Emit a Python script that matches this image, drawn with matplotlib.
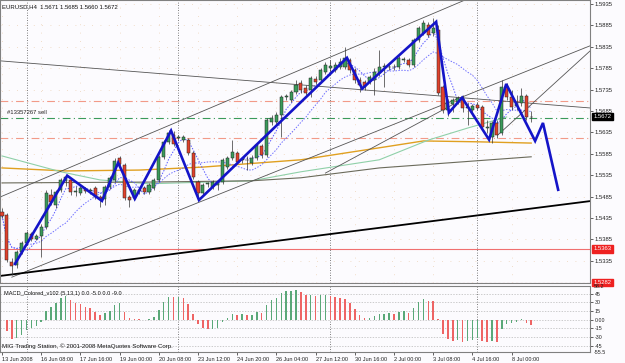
import numpy as np
import pandas as pd
import matplotlib
matplotlib.use("Agg")
import matplotlib.pyplot as plt
import matplotlib.transforms as mtransforms

plt.rcParams["font.family"] = ["Liberation Sans", "DejaVu Sans"]

# --- candles (EURUSD H4, 13 Jun - 8 Jul 2008) ---
opens = [1.5449, 1.5442, 1.5332, 1.5325, 1.5356, 1.5377, 1.5398, 1.5386, 1.5393, 1.5414,
         1.5489, 1.5466, 1.5501, 1.5522, 1.5524, 1.5496, 1.5494, 1.5503, 1.5498, 1.5505,
         1.5484, 1.5480, 1.5508, 1.5524, 1.5575, 1.5559, 1.5484, 1.5482, 1.5501, 1.5505,
         1.5496, 1.5505, 1.5524, 1.5578, 1.5613, 1.5629, 1.5622, 1.5617, 1.5617, 1.5587,
         1.5519, 1.5494, 1.5515, 1.5508, 1.5512, 1.5519, 1.5554, 1.5575, 1.5587, 1.5571,
         1.5571, 1.5564, 1.5575, 1.5603, 1.5582, 1.5659, 1.5659, 1.5676, 1.5718, 1.5711,
         1.5729, 1.5750, 1.5739, 1.5734, 1.5760, 1.5757, 1.5776, 1.5785, 1.5781, 1.5788,
         1.5788, 1.5804, 1.5781, 1.5757, 1.5753, 1.5753, 1.5757, 1.5774, 1.5788, 1.5788,
         1.5787, 1.5788, 1.5804, 1.5804, 1.5792, 1.5851, 1.5867, 1.5886, 1.5867, 1.5874,
         1.5741, 1.5687, 1.5701, 1.5706, 1.5715, 1.5692, 1.5687, 1.5699, 1.5694, 1.5645,
         1.5624, 1.5657, 1.5634, 1.5741, 1.5718, 1.5697, 1.5704, 1.5720, 1.5671]
highs = [1.5459, 1.5447, 1.5342, 1.5360, 1.5381, 1.5405, 1.5403, 1.5398, 1.5421, 1.5501,
         1.5503, 1.5501, 1.5529, 1.5536, 1.5529, 1.5510, 1.5510, 1.5508, 1.5505, 1.5510,
         1.5489, 1.5512, 1.5533, 1.5575, 1.5580, 1.5564, 1.5489, 1.5505, 1.5508, 1.5510,
         1.5517, 1.5529, 1.5582, 1.5617, 1.5641, 1.5638, 1.5629, 1.5629, 1.5622, 1.5592,
         1.5524, 1.5517, 1.5519, 1.5524, 1.5524, 1.5575, 1.5580, 1.5617, 1.5592, 1.5578,
         1.5580, 1.5582, 1.5610, 1.5608, 1.5669, 1.5676, 1.5683, 1.5722, 1.5725, 1.5734,
         1.5757, 1.5757, 1.5746, 1.5767, 1.5767, 1.5785, 1.5799, 1.5804, 1.5799, 1.5809,
         1.5834, 1.5809, 1.5785, 1.5764, 1.5757, 1.5769, 1.5785, 1.5827, 1.5797, 1.5797,
         1.5794, 1.5813, 1.5811, 1.5809, 1.5855, 1.5883, 1.5897, 1.5893, 1.5902, 1.5886,
         1.5746, 1.5713, 1.5715, 1.5720, 1.5722, 1.5704, 1.5701, 1.5706, 1.5699, 1.5664,
         1.5662, 1.5664, 1.5757, 1.5750, 1.5734, 1.5722, 1.5739, 1.5725, 1.5685]
lows = [1.5435, 1.5332, 1.5302, 1.5319, 1.5351, 1.5372, 1.5381, 1.5384, 1.5344, 1.5409,
        1.5466, 1.5459, 1.5496, 1.5510, 1.5489, 1.5487, 1.5489, 1.5494, 1.5491, 1.5480,
        1.5461, 1.5466, 1.5503, 1.5519, 1.5557, 1.5477, 1.5461, 1.5477, 1.5491, 1.5491,
        1.5491, 1.5501, 1.5519, 1.5573, 1.5608, 1.5603, 1.5617, 1.5613, 1.5582, 1.5526,
        1.5477, 1.5487, 1.5508, 1.5503, 1.5501, 1.5515, 1.5550, 1.5571, 1.5561, 1.5564,
        1.5547, 1.5559, 1.5571, 1.5575, 1.5578, 1.5652, 1.5655, 1.5624, 1.5711, 1.5706,
        1.5725, 1.5727, 1.5722, 1.5718, 1.5748, 1.5753, 1.5771, 1.5776, 1.5776, 1.5783,
        1.5783, 1.5774, 1.5750, 1.5729, 1.5734, 1.5748, 1.5722, 1.5767, 1.5741, 1.5781,
        1.5780, 1.5783, 1.5799, 1.5788, 1.5788, 1.5846, 1.5862, 1.5858, 1.5860, 1.5722,
        1.5680, 1.5673, 1.5683, 1.5701, 1.5683, 1.5652, 1.5683, 1.5687, 1.5641, 1.5634,
        1.5610, 1.5622, 1.5629, 1.5711, 1.5687, 1.5687, 1.5697, 1.5664, 1.5660]
closes = [1.5440, 1.5337, 1.5323, 1.5356, 1.5377, 1.5400, 1.5386, 1.5393, 1.5414, 1.5494,
          1.5473, 1.5496, 1.5524, 1.5531, 1.5496, 1.5498, 1.5505, 1.5498, 1.5501, 1.5484,
          1.5480, 1.5508, 1.5529, 1.5568, 1.5561, 1.5482, 1.5477, 1.5501, 1.5498, 1.5496,
          1.5512, 1.5524, 1.5578, 1.5613, 1.5634, 1.5608, 1.5624, 1.5624, 1.5587, 1.5531,
          1.5494, 1.5512, 1.5516, 1.5519, 1.5519, 1.5571, 1.5575, 1.5589, 1.5566, 1.5572,
          1.5570, 1.5575, 1.5606, 1.5582, 1.5664, 1.5669, 1.5676, 1.5718, 1.5719, 1.5729,
          1.5746, 1.5734, 1.5727, 1.5762, 1.5753, 1.5781, 1.5792, 1.5790, 1.5792, 1.5799,
          1.5809, 1.5781, 1.5757, 1.5746, 1.5741, 1.5764, 1.5776, 1.5788, 1.5789, 1.5787,
          1.5788, 1.5809, 1.5806, 1.5792, 1.5851, 1.5879, 1.5890, 1.5862, 1.5879, 1.5727,
          1.5687, 1.5706, 1.5711, 1.5715, 1.5692, 1.5694, 1.5697, 1.5692, 1.5648, 1.5648,
          1.5657, 1.5629, 1.5741, 1.5718, 1.5694, 1.5701, 1.5720, 1.5671, 1.5672]

# hand-drawn blue zigzag (bar position, price)
zz_bars = [2.65, 13.3, 20.4, 23.7, 27.1, 34.5, 40.2, 70.4, 73.5, 88.6, 91.2, 93.9,
           99.4, 102.9, 108.8, 110.4, 113.5]
zz_prices = [1.5328, 1.5534, 1.5475, 1.5564, 1.5480, 1.5639, 1.5477, 1.5809, 1.5737,
             1.5893, 1.5681, 1.5716, 1.5618, 1.5748, 1.5615, 1.5657, 1.5501]

# long moving averages
ma_orange_bars = [0, 13, 28, 41, 61, 77, 86, 97, 108]
ma_orange = [1.5552, 1.5545, 1.5547, 1.5554, 1.5571, 1.5599, 1.5615, 1.5613, 1.5610]
ma_lgreen_bars = [0, 12, 20, 30, 51, 61, 77, 87, 95, 103]
ma_lgreen = [1.5580, 1.5543, 1.5524, 1.5515, 1.5522, 1.5543, 1.5571, 1.5617, 1.5645, 1.5671]
ma_dark_bars = [0, 30, 51, 61, 77, 108]
ma_dark = [1.5517, 1.5519, 1.5522, 1.5529, 1.5552, 1.5578]

# trend lines: ((bar, price), (bar, price))
thick_line = ((-1, 1.5299), (121, 1.5476))
thin_lines = [((-0.41, 1.5484), (94.5, 1.5944)),
              ((2, 1.5297), (120, 1.5837)),
              ((-0.41, 1.5802), (120, 1.5692)),
              ((101.2, 1.5629), (120, 1.5825)),
              ((66, 1.5540), (92, 1.5700))]

red_levels = [1.5709, 1.5622]
green_level = 1.5669
stop_level = 1.5363
bottom_level = 1.5282

price_ticks = [1.5935, 1.5885, 1.5835, 1.5785, 1.5735, 1.5685, 1.5635, 1.5585,
               1.5535, 1.5485, 1.5435, 1.5385, 1.5335]
macd_ticks = [45, 30, 15, 0, -15, -30, -45]
macd_tick_labels = ["45", "30", "15", "0.00", "-15", "-30", "-45"]
time_pos = [0, 8, 16, 24, 32, 40, 48, 56, 64, 72, 80, 88, 96, 104]
time_labels = ["13 Jun 2008", "16 Jun 08:00", "17 Jun 16:00", "19 Jun 00:00",
               "20 Jun 08:00", "23 Jun 12:00", "24 Jun 20:00", "26 Jun 04:00",
               "27 Jun 12:00", "30 Jun 16:00", "2 Jul 00:00", "3 Jul 08:00",
               "4 Jul 16:00", "8 Jul 00:00"]
week_seps = [5, 36, 67, 97]

bg = "#fcfbfe"
fig = plt.figure(figsize=(6.25, 3.63), dpi=100, facecolor=bg)
ax = fig.add_axes([0.0, 80 / 363, 590 / 625, 283 / 363], facecolor=bg)
mac = fig.add_axes([0.0, 11 / 363, 590 / 625, 66 / 363], facecolor=bg, sharex=ax)

o = np.array(opens); h = np.array(highs); l = np.array(lows); c = np.array(closes)
idx = np.arange(len(c))
XL = (-0.41, 120.0)
YL = (1.5944 - 283 / 4284, 1.5944)

# grid dots
for p in price_ticks:
    ax.axhline(p, color="#ecd3b8", lw=0.6, ls=(0, (1, 9)), zorder=0)
for t in time_pos:
    ax.axvline(t, color="#ecd3b8", lw=0.6, ls=(0, (1, 9)), zorder=0)

# horizontal levels
for p in red_levels:
    ax.axhline(p, color="#f29a88", lw=0.8, ls=(0, (7, 3, 1, 3)), zorder=1)
ax.axhline(green_level, color="#3a9a5a", lw=0.8, ls=(0, (7, 3, 1, 3)), zorder=1)
ax.axhline(stop_level, color="#f07070", lw=0.8, zorder=1)
ax.axhline(bottom_level + 0.0002, color="#f07070", lw=0.8, ls=(0, (2, 2)), zorder=1)
ax.text(1, 1.5675, "#13357267 sell", fontsize=4.2, color="#222222", va="bottom")

# moving averages
ax.plot(ma_orange_bars, ma_orange, color="#e0a020", lw=1.0, zorder=2)
ax.plot(ma_lgreen_bars, ma_lgreen, color="#8fd0a8", lw=0.8, zorder=2)
ax.plot(ma_dark_bars, ma_dark, color="#6b6b5b", lw=0.8, zorder=2)
cs = pd.Series(c)
ax.plot(idx, cs.rolling(5, min_periods=1).mean(), color="#5a5aff", lw=0.7, ls=(0, (1.5, 1.5)), zorder=2)
ax.plot(idx, cs.rolling(13, min_periods=1).mean(), color="#7070ff", lw=0.7, ls=(0, (1.5, 1.5)), zorder=2)

# trend lines
for (b0, p0), (b1, p1) in thin_lines:
    ax.plot([b0, b1], [p0, p1], color="#555555", lw=0.6, zorder=2)
(b0, p0), (b1, p1) = thick_line
ax.plot([b0, b1], [p0, p1], color="#000000", lw=1.3, zorder=2)

# candles
up = c >= o
ax.vlines(idx, l, h, color="#333333", lw=0.5, zorder=3)
body_lo = np.minimum(o, c)
body_h = np.maximum(np.abs(c - o), 0.00004)
ax.bar(idx[up], body_h[up], bottom=body_lo[up], width=0.62, color="#3a9a5a",
       edgecolor="#222222", lw=0.35, zorder=4)
ax.bar(idx[~up], body_h[~up], bottom=body_lo[~up], width=0.62, color="#e0412c",
       edgecolor="#222222", lw=0.35, zorder=4)

# zigzag
ax.plot(zz_bars, zz_prices, color="#1414c8", lw=1.9, solid_joinstyle="miter", zorder=5)

for s in week_seps:
    ax.axvline(s, color="#555555", lw=0.6, ls=(0, (1, 2)), zorder=1)
    mac.axvline(s, color="#555555", lw=0.6, ls=(0, (1, 2)), zorder=1)

ax.set_xlim(*XL)
ax.set_ylim(*YL)
ax.yaxis.tick_right()
ax.set_yticks(price_ticks)
ax.set_yticklabels([f"{p:.4f}" for p in price_ticks])
ax.tick_params(axis="y", labelsize=4.2, length=2, width=0.5, pad=1.5, colors="#222222")
ax.tick_params(axis="x", bottom=False, labelbottom=False)
for sp in ax.spines.values():
    sp.set_color("#808080"); sp.set_linewidth(0.8)

tr = mtransforms.blended_transform_factory(ax.transAxes, ax.transData)
for val, txt, fc in [(closes[-1], f"{closes[-1]:.4f}", "#000000"),
                     (stop_level, f"{stop_level:.4f}", "#ee2020"),
                     (bottom_level + 0.0003, f"{bottom_level:.4f}", "#ee2020")]:
    ax.text(1.006, val, txt, transform=tr, fontsize=4.2, color="white", va="center", ha="left",
            bbox=dict(boxstyle="square,pad=0.2", fc=fc, ec=fc), zorder=6, clip_on=False)
ax.text(0.004, 0.985, "EURUSD,H4  1.5671 1.5685 1.5660 1.5672", transform=ax.transAxes,
        fontsize=4.3, va="top", color="#111111")

# MACD panel
hist = (cs.ewm(span=5, adjust=False).mean() - cs.ewm(span=13, adjust=False).mean()) * 10000
rising = hist.diff().fillna(0).values >= 0
mac.bar(idx, hist.values, width=0.32, color=np.where(rising, "#5aa878", "#ee6464"), zorder=3)
for t in macd_ticks:
    mac.axhline(t, color="#b8b8b8", lw=0.5, ls=(0, (2, 2)), zorder=1)
mac.set_ylim(-55.5, 58.2)
mac.yaxis.tick_right()
mac.set_yticks(macd_ticks)
mac.set_yticklabels(macd_tick_labels)
mac.tick_params(axis="y", labelsize=3.8, length=2, width=0.5, pad=1.5, colors="#222222")
mac.text(1.006, 1.0, "58.2", transform=mac.transAxes, fontsize=3.8, va="center", color="#222222")
mac.text(1.006, 0.0, "-55.5", transform=mac.transAxes, fontsize=3.8, va="center", color="#222222")
mac.text(0.006, 0.93, "MACD_Colored_v102 (5,13,1) 0.0 -5.0 0.0 -9.0", transform=mac.transAxes,
         fontsize=4.1, va="top", color="#111111")
mac.text(0.004, 0.04, "MIG Trading Station, \u00a9 2001-2008 MetaQuotes Software Corp.",
         transform=mac.transAxes, fontsize=4.4, va="bottom", color="#111111")
mac.set_xticks(time_pos)
mac.set_xticklabels(time_labels, ha="left")
mac.tick_params(axis="x", labelsize=4.0, length=2, width=0.5, pad=1.5, colors="#222222")
for sp in mac.spines.values():
    sp.set_color("#808080"); sp.set_linewidth(0.8)
mac.set_xlim(*XL)

fig.savefig("out.png", dpi=100, facecolor=bg)
